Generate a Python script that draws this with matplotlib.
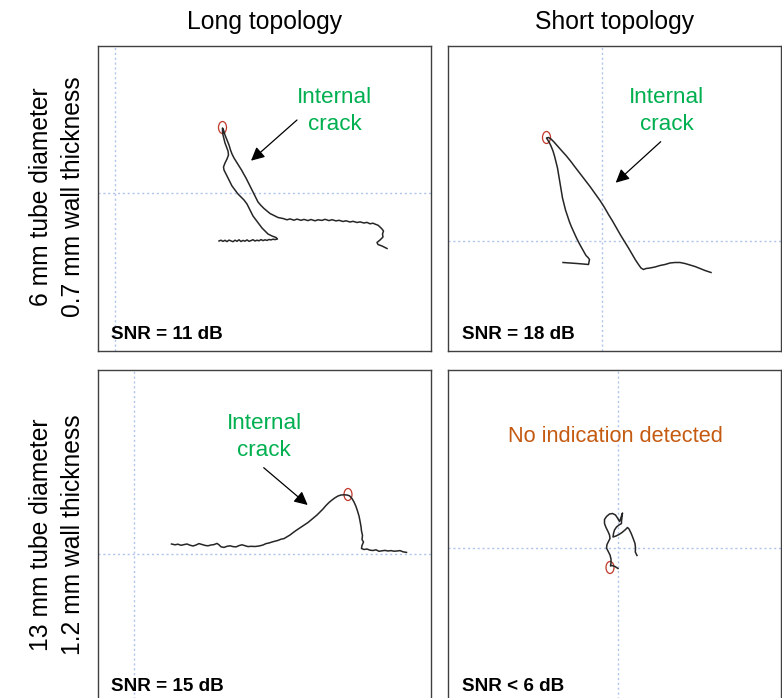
import matplotlib
matplotlib.use("Agg")
import matplotlib.pyplot as plt
from matplotlib.patches import Ellipse

plt.rcParams['font.family'] = ['Liberation Sans', 'DejaVu Sans']

W, H = 782, 698

# all coordinates below (pixel units)
col_titles = ["Long topology", "Short topology"]
row_labels = [["6 mm tube diameter", "0.7 mm wall thickness"],
              ["13 mm tube diameter", "1.2 mm wall thickness"]]
snr_labels = [["SNR = 11 dB", "SNR = 18 dB"], ["SNR = 15 dB", "SNR < 6 dB"]]

# panel extents: (x0, x1, y0, y1)
panels = [[(98, 431, 46, 351), (448, 781.5, 46, 351)],
          [(98, 431, 370, 705), (448, 781.5, 370, 705)]]
# crosshair origin of each impedance plane
origins = [[(114.5, 193.3), (601.7, 241)],
           [(133.7, 554), (618.3, 548.3)]]

# long topology, 6 mm tube
tl_x = [219, 221, 223, 225, 227, 229, 231, 233, 235, 237, 239, 241, 243, 245,
        247, 249, 251, 253, 255, 257, 259, 261, 263, 265, 267, 269, 271, 273,
        275, 277.5, 276, 272, 268, 265, 262, 259, 256, 253, 251, 249, 247, 244,
        241, 238, 235, 232, 230, 228, 226, 224, 223.5, 225, 227, 228.5, 228,
        226.5, 225, 224, 223, 222.5, 222.5,
        223.5, 225, 227, 229, 230.5, 232, 234, 236.5, 239, 241.5, 244, 246, 248,
        250, 252, 254, 256, 258, 261, 264, 267, 270, 274, 278, 283, 287, 290,
        294, 297, 301, 304, 308, 311, 315, 318, 322, 325, 329, 332, 336, 339,
        343, 346, 350, 353, 357, 360, 364, 367, 370, 373, 376, 378, 380, 382,
        383.5, 382.5, 383, 380, 377, 378, 382, 385, 387]
tl_y = [241, 240.2, 241.4, 240.3, 241.6, 240.1, 240.9, 241.7, 240.2, 241.3,
        239.8, 241.5, 240.4, 241.2, 239.9, 241.3, 240.6, 239.7, 241, 240.2,
        240.8, 239.6, 240.6, 239.8, 240.4, 239.5, 239.9, 239.2, 239.6, 239,
        237.5, 236, 234, 231, 228, 224, 220, 216, 212, 208, 204, 200, 197, 194,
        190, 186, 182, 178, 174, 170, 167, 163, 159, 155, 151, 147, 143, 139,
        135, 131, 128,
        130, 135, 140, 145, 150, 154, 158, 162, 166, 170, 174.5, 178, 182, 186,
        190, 194, 198, 202, 205.5, 208.5, 211, 213.5, 215.5, 217.5, 218.5,
        219.8, 218.9, 220.2, 219.1, 220.3, 219.4, 220.6, 219.5, 220.8, 219.8,
        220.4, 219.3, 220.6, 219.7, 220.9, 220.3, 221.5, 220.8, 222, 221.3,
        222.5, 221.9, 223, 222.4, 223.8, 223.2, 224.5, 225.2, 227, 229,
        231, 234, 237, 240, 242.5, 244.5, 246, 247.5, 248.5]

# short topology, 6 mm tube
tr_x = [563, 570, 577, 583, 588.5, 589, 589.5, 588, 586, 584, 581.5, 579, 576.5,
        574, 571.5, 569.5, 567.5, 565.5, 564, 562.5, 561.5, 560.5, 559.5, 558.5,
        557.5, 556, 554.5, 553, 551, 549, 547.5, 546.5,
        548.5, 551, 554, 557.5, 561.5, 566, 570.5, 575, 580, 585, 590, 595, 600,
        604.5, 608.5, 612.5, 616.5, 620.5, 624.5, 628.5, 632, 635.5, 638.5, 641,
        643.5, 646, 650, 655, 660, 665, 670, 675, 680, 685, 690, 695, 700, 705, 711]
tr_y = [262.5, 263, 263.5, 264, 264.5, 262, 259.5, 257.5, 255.5, 252, 247.5, 243,
        238, 232.5, 227, 222, 216, 210, 204, 198, 192, 186, 180, 174, 168, 162,
        156, 151, 146, 142, 139.5, 138,
        137.5, 139, 142, 146, 150.5, 155.5, 161, 167, 173.5, 180, 186.5, 193.5,
        200.5, 207.5, 214.5, 221, 228, 235, 241.5, 248, 254, 260, 264.5, 268,
        269.5, 268.5, 268, 267, 265.5, 264.5, 263, 262.5, 262.5, 263.5, 265,
        266.5, 268.5, 270.5, 272.5]

# long topology, 13 mm tube
bl_x = [171.5, 175, 178, 181, 184, 187, 190, 193, 196, 199, 202, 205, 208, 211,
        214, 217, 219, 221, 224, 227, 230, 233, 236, 239, 242, 245, 248, 251,
        255, 259, 263, 266, 269, 272, 275, 278, 281, 284, 287, 290, 293, 296,
        299, 302, 305, 308, 311, 314, 317, 320, 323, 326, 329, 332, 335, 338,
        341, 344, 347, 349.5, 352, 354, 356, 357.5, 359, 360, 361, 361.5, 362.5,
        362, 363.5, 362, 361.5, 364, 367, 370, 373, 376, 379, 382, 385, 388,
        391, 394, 397, 400, 403, 406.5]
bl_y = [544, 544.8, 544.2, 545.3, 544.6, 544, 545.2, 546, 545, 543.6, 544.5,
        545.4, 545.8, 545, 544.6, 543.4, 544.8, 546.8, 547.4, 546.3, 545.8,
        546.6, 546.9, 545.6, 544.8, 545.7, 546.6, 546.3, 546.5, 546, 545, 543.6,
        543, 542, 541.2, 540.4, 539.2, 538.6, 536.8, 535, 532.7, 530.5, 528.5,
        526.5, 524.5, 522.5, 520, 517.5, 515, 512, 509, 505.5, 502.5, 500, 497.8,
        496, 495, 494.8, 495, 495.8, 498.5, 502, 506.5, 511, 516, 521, 526.5,
        531, 535.5, 539.5, 542, 545.5, 548.5, 549.5, 549, 550.2, 550.5, 549.8,
        551.3, 550.8, 550.4, 551, 550.6, 551.2, 551, 550.6, 551.8, 552.4]

# short topology, 13 mm tube
br_x = [618, 615, 612, 610.5, 611, 611, 610, 608, 606.5, 607, 608.5, 610, 609.5,
        608, 606, 604.5, 604.5, 606.5, 609.5, 612.5, 615.5, 617.5, 619.5, 620.5,
        621.5, 622.5, 622, 621.5, 621.5, 619, 616.5, 614.5, 613.5, 613, 616, 619,
        622, 625, 627.5, 629, 631, 633, 635, 635.5, 635.3, 637]
br_y = [568.5, 566.5, 565.5, 566, 563, 559, 555, 551, 548, 544.5, 541.5, 538.5,
        535, 531.5, 527.5, 523.5, 519.5, 516.5, 514, 513.5, 515, 518, 521.5, 519,
        516, 513, 517, 521, 523.5, 525, 527, 530, 533.5, 537, 536, 534.5, 532.5,
        530, 527.5, 529, 533, 538, 543.5, 548, 552, 555.5]

traces = [[(tl_x, tl_y), (tr_x, tr_y)], [(bl_x, bl_y), (br_x, br_y)]]
# red marker at the peak of each signal
peaks = [[(222.5, 127.5), (546.5, 137.5)], [(348, 494.5), (610, 567.5)]]

# annotation text, arrow tail/head
notes = [[((334.5, 103.3), (297, 120), (251, 160.7)),
          ((666.7, 103.3), (660.7, 141.7), (615.7, 182.7))],
         [((264, 429), (263.7, 467.7), (307.7, 505)), None]]
snr_pos = [[(111, 339.3), (461.7, 339.3)], [(111, 691), (461.7, 691)]]

green = '#00B050'
orange = '#C55A11'
grid_c = '#AFC3EC'

fig = plt.figure(figsize=(W / 100, H / 100), dpi=100)

for r in range(2):
    for c in range(2):
        x0, x1, y0, y1 = panels[r][c]
        ax = fig.add_axes([x0 / W, 1 - y1 / H, (x1 - x0) / W, (y1 - y0) / H])
        ax.set_xlim(x0, x1)
        ax.set_ylim(y1, y0)
        ax.set_xticks([])
        ax.set_yticks([])
        for s in ax.spines.values():
            s.set_color('#404040')
            s.set_linewidth(1.0)

        ox, oy = origins[r][c]
        ax.axvline(ox, color=grid_c, lw=1.0, ls=(0, (1.5, 2)))
        ax.axhline(oy, color=grid_c, lw=1.0, ls=(0, (1.5, 2)))

        tx, ty = traces[r][c]
        ax.plot(tx, ty, color='#262626', lw=1.1)

        px, py = peaks[r][c]
        ax.add_patch(Ellipse((px, py), 8, 12, fill=False, ec='#C0392B', lw=0.9))

        note = notes[r][c]
        if note is not None:
            (nx, ny), tail, head = note
            ax.text(nx, ny, "Internal", color=green, fontsize=16.2,
                    ha='center', va='baseline')
            ax.text(nx, ny + 26.7, "crack", color=green, fontsize=16.2,
                    ha='center', va='baseline')
            ax.annotate('', xy=head, xytext=tail,
                        arrowprops=dict(arrowstyle='-|>', color='black',
                                        lw=0.9, mutation_scale=20,
                                        shrinkA=0, shrinkB=0))
        if r == 1 and c == 1:
            ax.text(615.8, 442.3, "No indication detected", color=orange,
                    fontsize=15.7, ha='center', va='baseline')

        sx, sy = snr_pos[r][c]
        ax.text(sx, sy, snr_labels[r][c], fontsize=13.6, fontweight='bold',
                ha='left', va='baseline')

# column titles
for c, t in enumerate(col_titles):
    x0, x1 = panels[0][c][0], panels[0][c][1]
    fig.text((x0 + x1) / 2 / W, 1 - 29.3 / H, t, fontsize=17.8,
             ha='center', va='baseline')

# row labels, two lines each, rotated
row_centers = [197, 535]
for r, lines in enumerate(row_labels):
    for k, line in enumerate(lines):
        cx = 41 + 31.6 * k
        fig.text(cx / W, 1 - row_centers[r] / H, line, rotation=90,
                 fontsize=17.7, ha='center', va='center')

fig.savefig('out.png', dpi=100)
